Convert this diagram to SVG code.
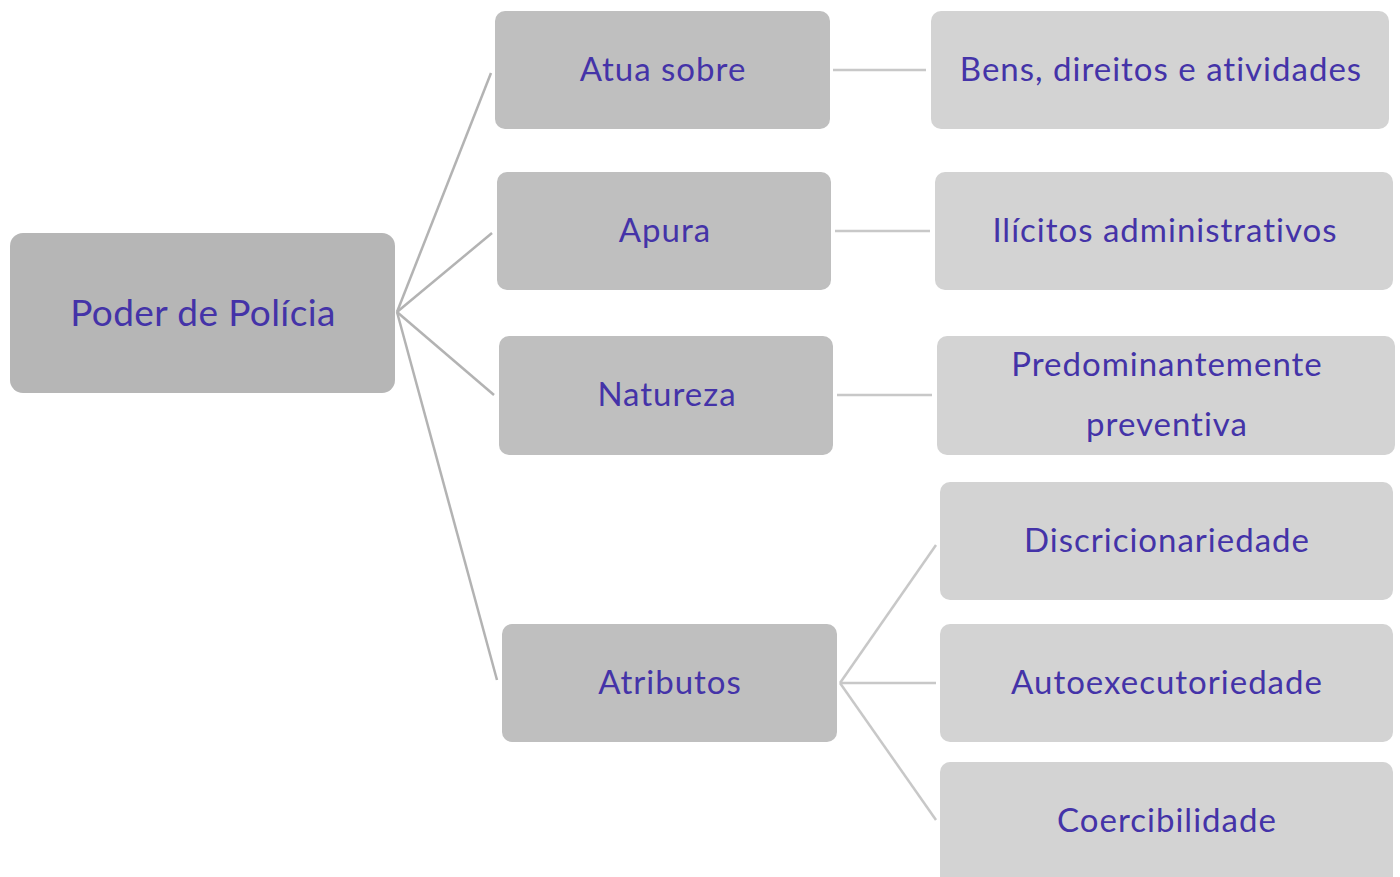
<svg xmlns="http://www.w3.org/2000/svg" width="1400" height="877" viewBox="0 0 1400 877">
<style>
.root{fill:#b6b6b6}
.l1{fill:#bfbfbf}
.l2{fill:#d3d3d3}
text{font-family:Lato,"Noto Sans","Liberation Sans",sans-serif;fill:#4433a8;text-anchor:middle;font-variant-ligatures:none}
.t0{font-size:37px;letter-spacing:0.4px}
.t1,.t2{font-size:33px;letter-spacing:1px}
.c0{stroke:#b3b3b3;stroke-width:2.5;fill:none}
.c1{stroke:#c8c8c8;stroke-width:2.5;fill:none}
</style>
<rect width="1400" height="877" fill="#ffffff"/>
<g id="connectors">
<line class="c0" x1="397" y1="312" x2="491" y2="73"/>
<line class="c0" x1="397" y1="312" x2="492" y2="233"/>
<line class="c0" x1="397" y1="312" x2="494" y2="395"/>
<line class="c0" x1="397" y1="312" x2="497" y2="680"/>
<line class="c1" x1="833" y1="70" x2="926" y2="70"/>
<line class="c1" x1="835" y1="231" x2="930" y2="231"/>
<line class="c1" x1="837" y1="395" x2="932" y2="395"/>
<line class="c1" x1="840" y1="683" x2="936" y2="545"/>
<line class="c1" x1="840" y1="683" x2="936" y2="683"/>
<line class="c1" x1="840" y1="683" x2="936" y2="820"/>
</g>
<g id="n-root"><rect class="root" x="10" y="233" width="385" height="160" rx="13"/><text class="t0" x="203" y="326">Poder de Polícia</text></g>
<g id="n-atua"><rect class="l1" x="495" y="11" width="335" height="118" rx="10"/><text class="t1" x="663" y="81">Atua sobre</text></g>
<g id="n-apura"><rect class="l1" x="497" y="172" width="334" height="118" rx="10"/><text class="t1" x="665" y="242">Apura</text></g>
<g id="n-natureza"><rect class="l1" x="499" y="336" width="334" height="119" rx="10"/><text class="t1" x="667" y="406">Natureza</text></g>
<g id="n-atributos"><rect class="l1" x="502" y="624" width="335" height="118" rx="10"/><text class="t1" x="670" y="694">Atributos</text></g>
<g id="n-bens"><rect class="l2" x="931" y="11" width="458" height="118" rx="10"/><text class="t2" x="1161" y="81">Bens, direitos e atividades</text></g>
<g id="n-ilicitos"><rect class="l2" x="935" y="172" width="458" height="118" rx="10"/><text class="t2" x="1165" y="242">Ilícitos administrativos</text></g>
<g id="n-predom"><rect class="l2" x="937" y="336" width="458" height="119" rx="10"/><text class="t2" x="1167" y="376">Predominantemente</text><text class="t2" x="1167" y="436">preventiva</text></g>
<g id="n-discr"><rect class="l2" x="940" y="482" width="453" height="118" rx="10"/><text class="t2" x="1167" y="552">Discricionariedade</text></g>
<g id="n-auto"><rect class="l2" x="940" y="624" width="453" height="118" rx="10"/><text class="t2" x="1167" y="694">Autoexecutoriedade</text></g>
<g id="n-coerc"><rect class="l2" x="940" y="762" width="453" height="130" rx="10"/><text class="t2" x="1167" y="832">Coercibilidade</text></g>
</svg>
